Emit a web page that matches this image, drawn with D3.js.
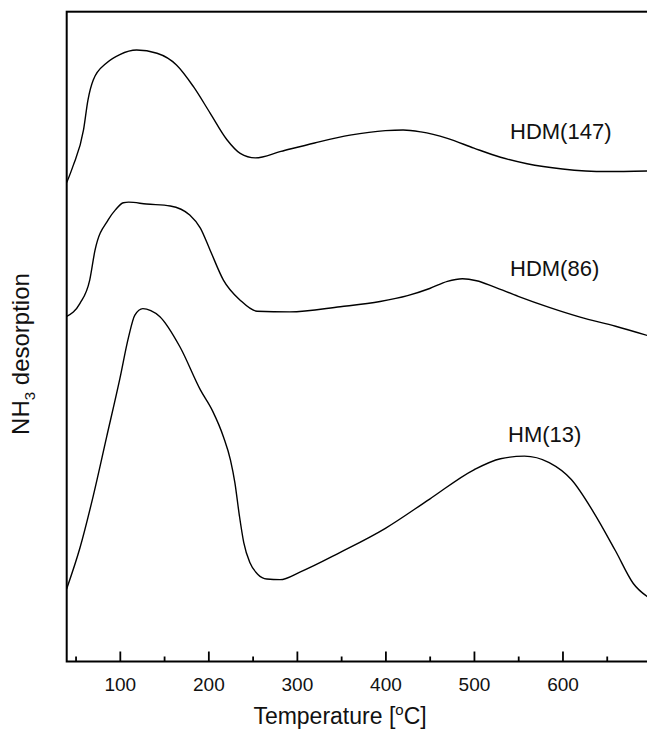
<!DOCTYPE html>
<html>
<head>
<meta charset="utf-8">
<script src="https://cdn.jsdelivr.net/npm/d3@7"></script>
<style>
  body { margin: 0; background: #fff; }
  svg { display: block; font-family: "Liberation Sans", Arial, sans-serif; }
</style>
</head>
<body>
<svg id="chart" width="647" height="729"></svg>
<script>
// NH3-TPD curves (arbitrary intensity units, 0-100 over the frame)
var hdm147Temp = [40, 47, 59, 64, 70, 85, 100, 119, 142, 164, 183, 202, 221, 236, 253, 282, 320, 360, 400, 420, 440, 470, 500, 530, 560, 600, 650, 700];
var hdm147Signal = [73.7, 76.2, 81.8, 86.4, 89.5, 92.1, 93.4, 94.1, 93.6, 91.8, 88.5, 84.4, 80.3, 78.2, 77.5, 78.5, 79.8, 81.0, 81.7, 81.8, 81.5, 80.5, 79.0, 77.6, 76.6, 75.8, 75.4, 75.5];

var hdm86Temp = [40, 55, 66, 72, 87, 95, 104, 110, 130, 157, 179, 191, 202, 217, 236, 255, 292, 349, 394, 425, 450, 470, 487, 503, 522, 550, 585, 620, 660, 700];
var hdm86Signal = [53.1, 55.1, 58.7, 63.3, 68.0, 69.5, 70.6, 70.7, 70.4, 70.1, 68.7, 66.7, 63.3, 58.7, 55.6, 53.9, 53.8, 54.6, 55.4, 56.3, 57.4, 58.5, 58.9, 58.6, 57.7, 56.2, 54.5, 53.0, 51.6, 50.0];

var hm13Temp = [40, 55, 70, 85, 100, 110, 117, 126, 135, 145, 168, 191, 205, 217, 225, 230, 235, 240, 247, 256, 266, 281, 304, 349, 400, 450, 500, 530, 557, 585, 610, 635, 660, 680, 700];
var hm13Signal = [11.2, 17.5, 25.5, 34.5, 43.5, 50.0, 53.3, 54.3, 54.0, 53.1, 48.4, 41.8, 38.5, 34.6, 31.0, 27.5, 22.5, 18.3, 15.2, 13.4, 12.7, 12.6, 13.8, 16.8, 20.5, 25.0, 29.5, 31.2, 31.6, 30.6, 28.0, 23.0, 17.0, 12.0, 9.6];

var seriesNames = ["HDM(147)", "HDM(86)", "HM(13)"];
var majorTicks = [100, 200, 300, 400, 500, 600];
var minorTicks = [50, 150, 250, 350, 450, 550, 650];

var svg = d3.select('#chart');
var plotLeft = 66.7, plotRight = 651, plotTop = 11.7, plotBottom = 661.5;

var x = d3.scaleLinear().domain([40, 700]).range([plotLeft, plotRight]);
var y = d3.scaleLinear().domain([0, 100]).range([plotBottom, plotTop]);

svg.append('clipPath').attr('id', 'plotclip')
    .append('rect')
    .attr('x', plotLeft).attr('y', plotTop)
    .attr('width', plotRight - plotLeft).attr('height', plotBottom - plotTop);

var series = [
    { name: seriesNames[0], temp: hdm147Temp, signal: hdm147Signal, lx: 510, ly: 138.5 },
    { name: seriesNames[1], temp: hdm86Temp, signal: hdm86Signal, lx: 510, ly: 276 },
    { name: seriesNames[2], temp: hm13Temp, signal: hm13Signal, lx: 508, ly: 441.5 }
];

var line = d3.line()
    .x(function (d) { return x(d[0]); })
    .y(function (d) { return y(d[1]); })
    .curve(d3.curveMonotoneX);

series.forEach(function (s) {
    var pts = d3.zip(s.temp, s.signal);
    svg.append('path')
        .datum(pts)
        .attr('clip-path', 'url(#plotclip)')
        .attr('fill', 'none')
        .attr('stroke', '#000')
        .attr('stroke-width', 1.4)
        .attr('d', line);

    svg.append('text')
        .attr('x', s.lx)
        .attr('y', s.ly)
        .attr('font-size', 22)
        .attr('fill', '#111')
        .text(s.name);
});

// bottom axis, ticks pointing inwards
var xAxis = d3.axisBottom(x)
    .tickValues(majorTicks)
    .tickSize(-10)
    .tickPadding(16)
    .tickFormat(d3.format('d'));

var gx = svg.append('g')
    .attr('transform', 'translate(0,' + plotBottom + ')')
    .call(xAxis);
gx.select('.domain').remove();
gx.selectAll('.tick line').attr('stroke', '#000').attr('stroke-width', 1.8);
gx.selectAll('.tick text')
    .attr('font-size', 19)
    .attr('font-family', '"Liberation Sans", Arial, sans-serif')
    .attr('fill', '#111');

var gm = svg.append('g')
    .attr('transform', 'translate(0,' + plotBottom + ')')
    .call(d3.axisBottom(x).tickValues(minorTicks).tickSize(-5).tickFormat(''));
gm.select('.domain').remove();
gm.selectAll('.tick line').attr('stroke', '#000').attr('stroke-width', 1.8);

// frame (right side falls outside the picture)
svg.append('rect')
    .attr('x', plotLeft).attr('y', plotTop)
    .attr('width', plotRight - plotLeft).attr('height', plotBottom - plotTop)
    .attr('fill', 'none')
    .attr('stroke', '#000')
    .attr('stroke-width', 2);

// axis titles
var xt = svg.append('text')
    .attr('x', 340)
    .attr('y', 724)
    .attr('text-anchor', 'middle')
    .attr('font-size', 23)
    .attr('fill', '#111');
xt.append('tspan').text('Temperature [');
xt.append('tspan').attr('font-size', 15).attr('dy', -9).text('o');
xt.append('tspan').attr('dy', 9).text('C]');

var yt = svg.append('text')
    .attr('transform', 'translate(29,354) rotate(-90)')
    .attr('text-anchor', 'middle')
    .attr('font-size', 24)
    .attr('fill', '#111');
yt.append('tspan').text('NH');
yt.append('tspan').attr('font-size', 15).attr('dy', 6).text('3');
yt.append('tspan').attr('dy', -6).text(' desorption');
</script>
</body>
</html>
